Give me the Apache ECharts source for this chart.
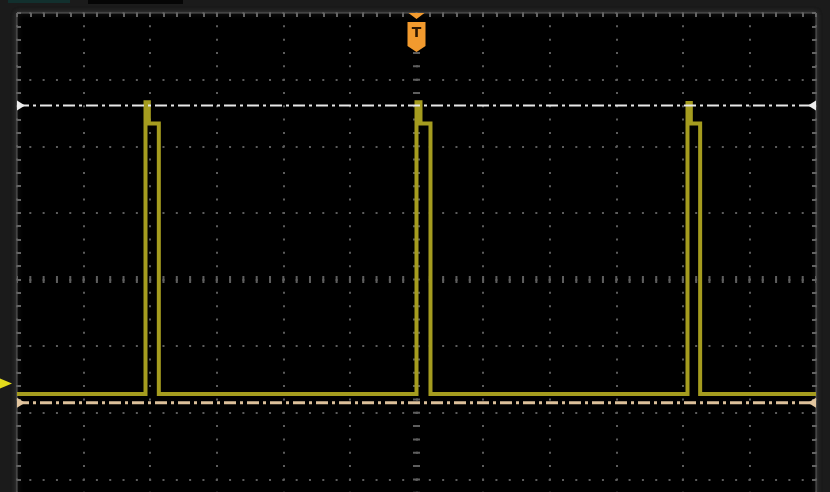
<!DOCTYPE html>
<html>
<head>
<meta charset="utf-8">
<script src="https://cdn.jsdelivr.net/npm/echarts@6/dist/echarts.min.js"></script>
<style>
  html, body { margin: 0; padding: 0; background: #1b1b1b; }
  #scope { width: 830px; height: 492px; }
</style>
</head>
<body>
<div id="scope"></div>
<script>
// Screen: 12 horizontal x 8 vertical divisions, centred on 0
const timeDivRange = [-6, 6];
const levelDivRange = [-4, 4];

// Channel 1 trace: time (div) / level (div)
const traceTime  = [-6, -4.07, -4.07, -4.02, -4.02, -3.87, -3.87,
                    0.00, 0.00, 0.06, 0.06, 0.21, 0.21,
                    4.07, 4.07, 4.12, 4.12, 4.26, 4.26, 6];
const traceLevel = [-1.72, -1.72, 2.66, 2.66, 2.34, 2.34, -1.72,
                    -1.72, 2.66, 2.66, 2.34, 2.34, -1.72,
                    -1.72, 2.65, 2.65, 2.34, 2.34, -1.72, -1.72];

// Horizontal cursors and reference markers (div)
const cursorA = 2.61;
const cursorB = -1.85;
const groundRef = -1.56;
const triggerTime = 0;

const dotColor = '#5c5c5c';
const tickColor = '#646464';
const traceColor = '#a59c1f';

const borderAxis = (position) => ({
  type: 'value', min: position === 'top' || position === 'bottom' ? timeDivRange[0] : levelDivRange[0],
  max: position === 'top' || position === 'bottom' ? timeDivRange[1] : levelDivRange[1],
  interval: 1, position: position,
  axisLine: { show: false, onZero: false },
  axisTick: { show: true, inside: true, length: 4, lineStyle: { color: tickColor, width: 2 } },
  minorTick: { show: true, splitNumber: 5, length: 4, lineStyle: { color: tickColor, width: 2 } },
  axisLabel: { show: false },
  splitLine: { show: false }
});

const centreLine = (dash) => ({
  show: true, onZero: true,
  lineStyle: { color: '#5e5e5e', width: 7, type: dash, dashOffset: 1, cap: 'butt' }
});

const chart = echarts.init(document.getElementById('scope'), null, { renderer: 'canvas' });

const option = {
  backgroundColor: '#1b1b1b',
  animation: false,
  graphic: [
    { type: 'rect', left: 8, top: 0, shape: { width: 62, height: 3 }, style: { fill: '#12302e' }, silent: true },
    { type: 'rect', left: 88, top: 0, shape: { width: 95, height: 4 }, style: { fill: '#050505' }, silent: true }
  ],
  grid: {
    left: 17, right: 14, top: 13, bottom: -54,
    show: true, backgroundColor: '#000000',
    borderColor: '#5a5a5a', borderWidth: 1,
    shadowColor: 'rgba(70,70,70,0.9)', shadowBlur: 5,
    containLabel: false, outerBoundsMode: 'none'
  },
  xAxis: [
    Object.assign(borderAxis('top'), {
      splitLine: { show: true, lineStyle: { color: dotColor, width: 2, type: [2, 11.325], dashOffset: 1, cap: 'butt' } }
    }),
    {
      type: 'value', min: timeDivRange[0], max: timeDivRange[1], interval: 1, position: 'bottom',
      axisLine: centreLine([2, 11.317]),
      axisTick: { show: false }, axisLabel: { show: false }, splitLine: { show: false }
    }
  ],
  yAxis: [
    Object.assign(borderAxis('left'), {
      splitLine: { show: true, lineStyle: { color: dotColor, width: 2, type: [2, 11.317], dashOffset: 1, cap: 'butt' } }
    }),
    {
      type: 'value', min: levelDivRange[0], max: levelDivRange[1], interval: 1, position: 'right',
      axisLine: centreLine([2, 11.325]),
      axisTick: { show: false }, axisLabel: { show: false }, splitLine: { show: false }
    },
    borderAxis('right')
  ],
  series: [
    {
      name: 'CH1',
      type: 'line',
      data: traceTime.map((t, i) => [t, traceLevel[i]]),
      showSymbol: false,
      symbol: 'none',
      lineStyle: { color: traceColor, width: 4, join: 'miter' },
      z: 3,
      markPoint: {
        silent: true,
        data: [
          {
            // trigger position badge
            coord: [triggerTime, levelDivRange[1]],
            symbol: 'path://M1,0 L17,0 L9,6 Z M0,9 L18,9 L18,33 L9,39 L0,33 Z',
            symbolSize: [18, 39],
            symbolOffset: [0, 19.5],
            itemStyle: { color: '#f29a2e' },
            label: { show: true, formatter: 'T', color: '#2e1600', fontSize: 14, fontWeight: 'bold',
                     fontFamily: 'DejaVu Sans', offset: [0, 1] }
          },
          {
            // channel ground reference
            coord: [timeDivRange[0], groundRef],
            symbol: 'triangle',
            symbolSize: [10, 12],
            symbolRotate: -90,
            symbolOffset: [-11, 0],
            itemStyle: { color: '#e4dc1c' },
            label: { show: false }
          }
        ]
      }
    },
    {
      name: 'Cursor A',
      type: 'line',
      data: [[timeDivRange[0], cursorA], [timeDivRange[1], cursorA]],
      symbol: 'none',
      lineStyle: { color: '#e8e8e8', width: 2, type: [12, 4, 3, 4] },
      z: 4,
      markPoint: {
        silent: true, symbol: 'triangle', symbolSize: [10, 8],
        itemStyle: { color: '#eeeeee' }, label: { show: false },
        data: [
          { coord: [timeDivRange[0], cursorA], symbolRotate: -90, symbolOffset: [4, 0] },
          { coord: [timeDivRange[1], cursorA], symbolRotate: 90, symbolOffset: [-4, 0] }
        ]
      }
    },
    {
      name: 'Cursor B',
      type: 'line',
      data: [[timeDivRange[0], cursorB], [timeDivRange[1], cursorB]],
      symbol: 'none',
      lineStyle: { color: '#dcc09a', width: 3, type: [12, 4, 3, 4] },
      z: 4,
      markPoint: {
        silent: true, symbol: 'triangle', symbolSize: [10, 8],
        itemStyle: { color: '#e2c59e' }, label: { show: false },
        data: [
          { coord: [timeDivRange[0], cursorB], symbolRotate: -90, symbolOffset: [4, 0] },
          { coord: [timeDivRange[1], cursorB], symbolRotate: 90, symbolOffset: [-4, 0] }
        ]
      }
    }
  ]
};

chart.setOption(option);
</script>
</body>
</html>
